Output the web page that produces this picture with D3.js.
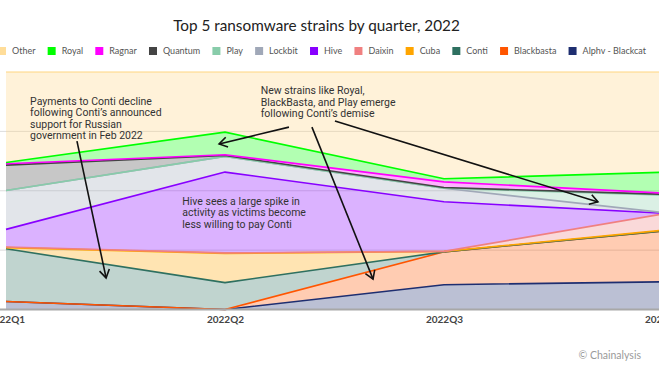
<!DOCTYPE html>
<html><head><meta charset="utf-8">
<script src="https://cdn.jsdelivr.net/npm/d3@7"></script>
<style>
html,body{margin:0;padding:0;background:#fff;overflow:hidden;}
svg{display:block;}
</style></head>
<body><svg id="c" width="659" height="371"></svg>
<script>
// ---- data (percent share per quarter) ----
const quarters = ["2022Q1", "2022Q2", "2022Q3", "2022Q4"];
const seriesNames = ["Alphv - Blackcat", "Blackbasta", "Conti", "Cuba", "Daixin", "Hive", "Lockbit", "Play", "Quantum", "Ragnar", "Royal", "Other"];
const alphv      = [3.4, 0.0, 10.5, 11.7];
const blackbasta = [0.0, 0.0, 13.9, 21.5];
const conti      = [22.2, 11.3, 0.0, 0.0];
const cuba       = [0.5, 12.3, 0.2, 0.3];
const daixin     = [0.3, 0.2, 0.0, 6.9];
const hive       = [7.4, 34.0, 21.0, 0.3];
const lockbit    = [16.4, 6.6, 5.7, 0.3];
const play       = [0.0, 0.0, 0.0, 7.4];
const quantum    = [10.7, 0.4, 0.3, 0.3];
const ragnar     = [0.6, 0.3, 2.4, 0.5];
const royal      = [0.5, 9.5, 1.3, 8.8];
const other      = [38.2, 25.3, 45.2, 42.4];
const seriesValues = [alphv, blackbasta, conti, cuba, daixin, hive, lockbit, play, quantum, ragnar, royal, other];
const seriesColors = ["#1E2E70", "#FF5500", "#2E7060", "#FFA500", "#F08080", "#8800FF", "#A0A8B8", "#88CCAA", "#444444", "#FF00FF", "#00FF00", "#FFD580"];
const legendOrder = ["Other", "Royal", "Ragnar", "Quantum", "Play", "Lockbit", "Hive", "Daixin", "Cuba", "Conti", "Blackbasta", "Alphv - Blackcat"];
const yTicks = [0, 0.25, 0.5, 0.75, 1];
const title = "Top 5 ransomware strains by quarter, 2022";

// annotations (x in quarter units, y in percent)
const notes = [
  {x: 0.11, y: 86.2, lines: ["Payments to Conti decline", "following Conti\u2019s announced", "support for Russian", "government in Feb 2022"]},
  {x: 1.163, y: 90.6, lines: ["New strains like Royal,", "BlackBasta, and Play emerge", "following Conti\u2019s demise"]},
  {x: 0.805, y: 44.1, lines: ["Hive sees a large spike in", "activity as victims become", "less willing to pay Conti"]}
];
const arrows = [
  {x1: 0.324, y1: 70.9, x2: 0.457, y2: 13.3},
  {x1: 1.292, y1: 76.8, x2: 0.973, y2: 69.7},
  {x1: 1.397, y1: 76.8, x2: 1.676, y2: 12.8},
  {x1: 1.502, y1: 79.4, x2: 2.703, y2: 45.3}
];

// ---- build ----
const svg = d3.select("#c");
const table = quarters.map((q, i) => {
  const r = {quarter: q};
  seriesNames.forEach((n, k) => r[n] = seriesValues[k][i]);
  return r;
});
const stack = d3.stack().keys(seriesNames).offset(d3.stackOffsetExpand);
const layers = stack(table);

const x = d3.scalePoint().domain(quarters).range([6, 663]);
const y = d3.scaleLinear().domain([0, 1]).range([309.5, 72]);
const qx = d3.scaleLinear().domain([0, 3]).range([6, 663]);
const color = d3.scaleOrdinal().domain(seriesNames).range(seriesColors);

// gridlines
svg.append("g").selectAll("line").data(yTicks.slice(1, 4)).join("line")
  .attr("x1", 0).attr("x2", 659)
  .attr("y1", d => y(d)).attr("y2", d => y(d))
  .attr("stroke", "#dcdcdc").attr("stroke-width", 1);

const area = d3.area().x(d => x(d.data.quarter)).y0(d => y(d[0])).y1(d => y(d[1]));
const line = d3.line().x(d => x(d.data.quarter)).y(d => y(d[1]));

const g = svg.append("g");
layers.forEach(L => {
  g.append("path").attr("d", area(L)).attr("fill", color(L.key)).attr("fill-opacity", 0.3);
});
layers.forEach(L => {
  g.append("path").attr("d", line(L)).attr("fill", "none").attr("stroke", color(L.key))
    .attr("stroke-width", L.key === "Other" ? 1 : 1.6).attr("stroke-linejoin", "round");
});

// x axis
const xAxis = svg.append("g").attr("transform", "translate(0,309.5)")
  .call(d3.axisBottom(x).tickSize(0).tickPadding(6));
xAxis.select(".domain").attr("stroke", "#a8a8a8").attr("stroke-width", 2).attr("d", "M0,0H659");
xAxis.selectAll("text").attr("font-family", "Lato, sans-serif").attr("font-size", 10)
  .attr("font-weight", 700).attr("fill", "#444");

// title
svg.append("text").attr("x", 316.5).attr("y", 31).attr("text-anchor", "middle")
  .attr("font-family", "Lato, sans-serif").attr("font-size", 15.3).attr("fill", "#222").text(title);

// legend: measure labels, then spread items so the row spans the reference width
const leg = svg.append("g").attr("font-family", "Lato, sans-serif").attr("font-size", 9).attr("fill", "#555");
const items = legendOrder.map(n => {
  const t = leg.append("text").attr("y", 54.3).text(n);
  return {n, t, w: t.node().getComputedTextLength()};
});
const legStart = -2, legEnd = 646;
const natural = d3.sum(items, d => 14 + d.w);
const gap = (legEnd - legStart - natural) / (items.length - 1);
let lx = legStart;
items.forEach(d => {
  leg.append("rect").attr("x", lx).attr("y", 47).attr("width", 8).attr("height", 8)
    .attr("fill", color(d.n)).attr("fill-opacity", d.n === "Other" ? 0.8 : 1);
  d.t.attr("x", lx + 14);
  lx += 14 + d.w + gap;
});

// annotations
const defs = svg.append("defs");
defs.append("marker").attr("id", "arr").attr("markerUnits", "userSpaceOnUse")
  .attr("viewBox", "-10 -6 12 12").attr("refX", 0).attr("refY", 0)
  .attr("markerWidth", 12).attr("markerHeight", 12).attr("orient", "auto")
  .append("path").attr("d", "M-8,-5L0,0L-8,5").attr("fill", "none")
  .attr("stroke", "#111").attr("stroke-width", 1.6);

const pctY = p => y(p / 100);
svg.append("g").selectAll("line").data(arrows).join("line")
  .attr("x1", d => qx(d.x1)).attr("y1", d => pctY(d.y1))
  .attr("x2", d => qx(d.x2)).attr("y2", d => pctY(d.y2))
  .attr("stroke", "#111").attr("stroke-width", 1.6).attr("marker-end", "url(#arr)");

notes.forEach(nt => {
  const t = svg.append("text").attr("font-family", "Roboto, sans-serif").attr("font-size", 10.5).attr("fill", "#333");
  nt.lines.forEach((s, i) => {
    t.append("tspan").attr("x", qx(nt.x)).attr("y", pctY(nt.y) + i * 11.5).text(s);
  });
});

// credit
svg.append("text").attr("x", 641).attr("y", 359).attr("text-anchor", "end")
  .attr("font-family", "Lato, sans-serif").attr("font-size", 10.5).attr("fill", "#9a9a9a").text("\u00A9 Chainalysis");
</script></body></html>
